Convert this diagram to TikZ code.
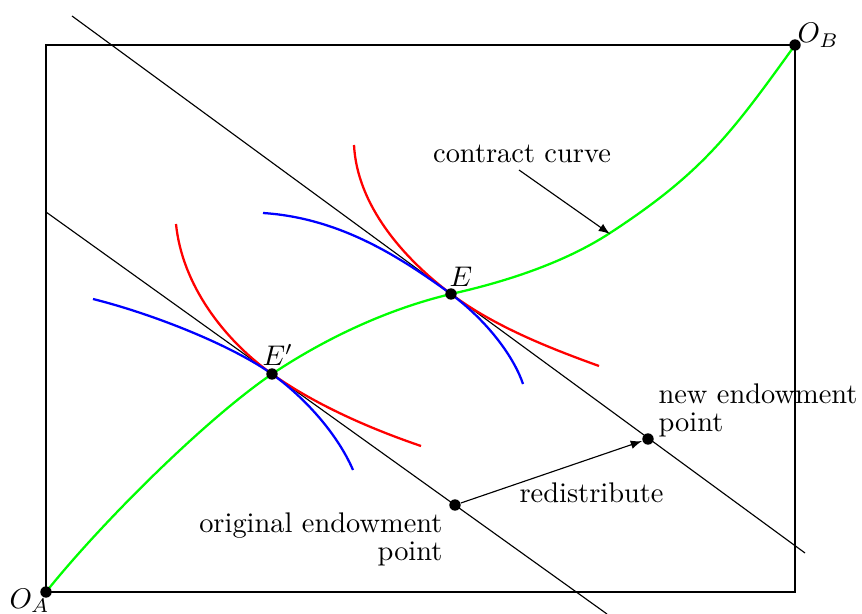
\documentclass[tikz,border=0pt]{standalone}
\begin{document}
\begin{tikzpicture}[x=0.352pt,y=-0.352pt,
  dot/.style={circle,fill=black,inner sep=0pt,minimum size=4pt},
  thinline/.style={line width=0.4pt},
  curve/.style={line width=0.8pt},
  txt/.style={inner sep=0pt,font={\fontsize{10pt}{10pt}\selectfont}}]
\useasboundingbox (0,0) rectangle (862,614);
% points
\coordinate (pOA) at (46,592);
\coordinate (pOB) at (795,45);
\coordinate (pEp) at (272,374);
\coordinate (pE) at (451,294);
\coordinate (pC) at (610,233);
% box
\draw[thinline] (pOA) rectangle (pOB);
% budget lines
\coordinate (L1a) at (46,212);
\coordinate (L1b) at (607,614);
\coordinate (L2a) at (72,16);
\coordinate (L2b) at (805,553);
\draw[thinline] (L1a) -- (L1b);
\draw[thinline] (L2a) -- (L2b);
% indifference curves at E'
\draw[curve,red] (176,224) .. controls (182,284) and (223,339) .. (pEp)
  .. controls (317,406) and (374,430) .. (421,446);
\draw[curve,blue] (93,299) .. controls (153,314) and (231,345) .. (pEp)
  .. controls (304,397) and (337,433) .. (353,470);
% indifference curves at E
\draw[curve,red] (354,145) .. controls (357,205) and (403,258) .. (pE)
  .. controls (495,327) and (552,349) .. (599,366);
\draw[curve,blue] (263,213) .. controls (340,218) and (400,257) .. (pE)
  .. controls (491,324) and (515,360) .. (523,384);
% contract curve
\draw[curve,green] (pOA) .. controls (102,522) and (206,419) .. (pEp)
  .. controls (326,338) and (388,309) .. (pE)
  .. controls (505,282) and (564,263) .. (pC)
  .. controls (702,173) and (731,134) .. (pOB);
% dots
\node[dot] (OA) at (pOA) {};
\node[dot] (OB) at (pOB) {};
\node[dot] (Ep) at (pEp) {};
\node[dot] (E) at (pE) {};
\node[dot] (orig) at (455,505) {};
\node[dot] (new) at (648,439) {};
% labels
\node[txt,anchor=base west] (OAl) at (9,608) {$O_A$};
\node[txt,anchor=base west] (OBl) at (797,43) {$O_B$};
\node[txt,anchor=base west] (Epl) at (262,366) {$E'$};
\node[txt,anchor=base west] (El) at (449,287) {$E$};
\node[txt,anchor=base] (cc) at (522,163) {contract curve};
\node[txt,anchor=north west,align=left] (newl) at (658,383) {new endowment\\point};
\node[txt,anchor=north east,align=right] (origl) at (443,512) {original endowment\\point};
\node[txt,anchor=base west] (redl) at (519,502) {redistribute};
% arrows
\coordinate (ccs) at (519,170);
\coordinate (cce) at (610,234);
\draw[thinline,-latex] (ccs) -- (cce);
\draw[thinline,-latex] (orig) -- (new);
\end{tikzpicture}
\end{document}
